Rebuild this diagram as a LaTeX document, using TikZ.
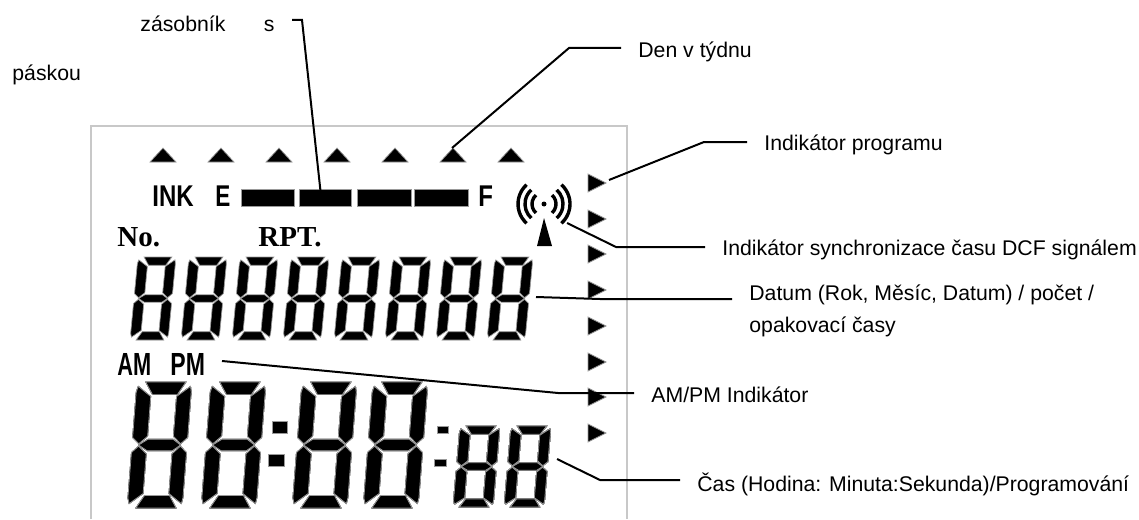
\documentclass[tikz,border=0pt]{standalone}
\usepackage{fontspec}
\usepackage{graphicx}
\setmainfont{Liberation Sans}
\newfontfamily\lcdserif{Liberation Serif}
\usetikzlibrary{positioning}
\definecolor{framegray}{RGB}{200,200,200}

% one seven-segment digit: x, y of top left corner, width, height, slant
\newcommand{\lcddigit}[5]{%
  \begin{scope}[shift={(#1,#2)}, xscale=#3, yscale=#4, xslant=#5]
    \fill[seg] (.16,0)--(.89,0)--(.75,.10)--(.30,.10)--cycle;
    \fill[seg] (.03,.035)--(.27,.115)--(.27,.43)--(.12,.49)--(0,.44)--(0,.08)--cycle;
    \fill[seg] (.98,.035)--(1,.08)--(1,.44)--(.88,.49)--(.74,.43)--(.74,.115)--cycle;
    \fill[seg] (.12,.5)--(.28,.455)--(.74,.455)--(.88,.5)--(.74,.545)--(.28,.545)--cycle;
    \fill[seg] (.12,.51)--(.27,.57)--(.27,.885)--(.03,.965)--(0,.92)--(0,.56)--cycle;
    \fill[seg] (.88,.51)--(1,.56)--(1,.92)--(.98,.965)--(.74,.885)--(.74,.57)--cycle;
    \fill[seg] (.30,.90)--(.75,.90)--(.89,1)--(.16,1)--cycle;
  \end{scope}}

\begin{document}
\begin{tikzpicture}[x=.5pt, y=-.5pt,
    font=\fontsize{10.62}{16}\selectfont,
    lbl/.style={inner ysep=0pt, inner xsep=8.5pt, align=left},
    lcdtxt/.style={inner sep=0pt, anchor=west},
    seg/.style={fill=black, draw=black!40, line width=.35pt},
    lead/.style={line width=1pt},
    frame/.style={draw=framegray, line width=1pt}]
  \useasboundingbox (0,0) rectangle (1139,519);

  % display outline
  \draw[frame] (91,519) |- (627,126) -- (627,519);

  % markers
  \foreach \mx in {163,221,279,337,395,453,511}
    \fill[seg] (\mx,148) -- (\mx+13,162) -- (\mx-13,162) -- cycle;
  \foreach \my in {183,219,254,290,326,362,397,433}
    \fill[seg] (588,\my-9) -- (606,\my) -- (588,\my+9) -- cycle;

  % ink gauge
  \node[lcdtxt] (ink) at (152,196) {\fontsize{15}{15}\selectfont\bfseries\scalebox{.8}[1]{INK}};
  \node[lcdtxt] (inke) at (215,196) {\fontsize{15}{15}\selectfont\bfseries\scalebox{.75}[1]{E}};
  \node[lcdtxt] (inkf) at (478,196) {\fontsize{15}{15}\selectfont\bfseries\scalebox{.8}[1]{F}};
  \fill[seg] (241,189) rectangle (294,206);
  \fill[seg] (299,189) rectangle (351,206);
  \fill[seg] (357,189) rectangle (411,206);
  \fill[seg] (414,189) rectangle (468,206);

  % antenna
  \fill (544,204) circle (2.5);
  \foreach \r in {12,19,26} {
    \draw[line width=1.7pt] (544,204) ++(-48:\r) arc[start angle=-48, end angle=48, radius=\r];
    \draw[line width=1.7pt] (544,204) ++(132:\r) arc[start angle=132, end angle=228, radius=\r];
  }
  \fill (544,218) -- (552,246) -- (537,246) -- cycle;

  % small marks
  \node[lcdtxt] (no) at (117,237) {\lcdserif\fontsize{14.5}{15}\selectfont\bfseries No.};
  \node[lcdtxt] (rpt) at (258,237) {\lcdserif\fontsize{14.5}{15}\selectfont\bfseries RPT.};
  \node[lcdtxt] (am) at (117,364) {\fontsize{16}{16}\selectfont\bfseries\scalebox{.68}[1]{AM}};
  \node[lcdtxt] (pm) at (170,364) {\fontsize{16}{16}\selectfont\bfseries\scalebox{.72}[1]{PM}};

  % digits
  \foreach \i in {0,...,7}
    \lcddigit{138+51*\i}{257}{38}{83}{.21}
  \foreach \dx in {137,211,302,373}
    \lcddigit{\dx}{382}{55}{126}{.18}
  \foreach \dx in {460,511}
    \lcddigit{\dx}{426}{40}{81}{.175}
  \fill[seg] (272,421) rectangle (287,433);
  \fill[seg] (268,454) rectangle (284,466);
  \fill[seg] (437,426) rectangle (448,433);
  \fill[seg] (434,459) rectangle (446,466);

  % labels
  \node[inner sep=0pt, anchor=west] (zas) at (140,24) {zásobník};
  \node[lbl, anchor=east] (sl) at (292,26) {s};
  \node[inner sep=0pt, anchor=west] (pas) at (12,75) {páskou};
  \node[lbl, anchor=west] (den) at (621,52) {Den v týdnu};
  \node[lbl, anchor=west] (prog) at (747,145) {Indikátor programu};
  \node[lbl, anchor=west] (dcf) at (705,250) {Indikátor synchronizace času DCF signálem};
  \node[lbl, anchor=west] (dat) at (732,311) {Datum (Rok, Měsíc, Datum) / počet /\\opakovací časy};
  \node[lbl, anchor=west] (ampm) at (634,395) {AM/PM Indikátor};
  \node[lbl, anchor=west] (cas) at (680,484) {Čas (Hodina: Minuta:Sekunda)/Programování};

  % leader ends on the display
  \coordinate (inktip) at (322,205);
  \coordinate (inkbend) at (302,20);
  \coordinate (dentip) at (452,148);
  \coordinate (denbend) at (569,48);
  \coordinate (progtip) at (609,180);
  \coordinate (progbend) at (704,142);
  \coordinate (dcftip) at (567,223);
  \coordinate (dcfbend) at (616,247);
  \coordinate (dattip) at (536,297);
  \coordinate (datbend) at (600,299);
  \coordinate (ampmtip) at (222,361);
  \coordinate (ampmbend) at (558,393);
  \coordinate (castip) at (557,459);
  \coordinate (casbend) at (600,480);

  \draw[lead] (inktip) -- (inkbend) -- (inkbend -| sl.east);
  \draw[lead] (dentip) -- (denbend) -- (denbend -| den.west);
  \draw[lead] (progtip) -- (progbend) -- (progbend -| prog.west);
  \draw[lead] (dcftip) -- (dcfbend) -- (dcfbend -| dcf.west);
  \draw[lead] (dattip) -- (datbend) -- (datbend -| dat.west);
  \draw[lead] (ampmtip) -- (ampmbend) -- (ampmbend -| ampm.west);
  \draw[lead] (castip) -- (casbend) -- (casbend -| cas.west);
\end{tikzpicture}
\end{document}
